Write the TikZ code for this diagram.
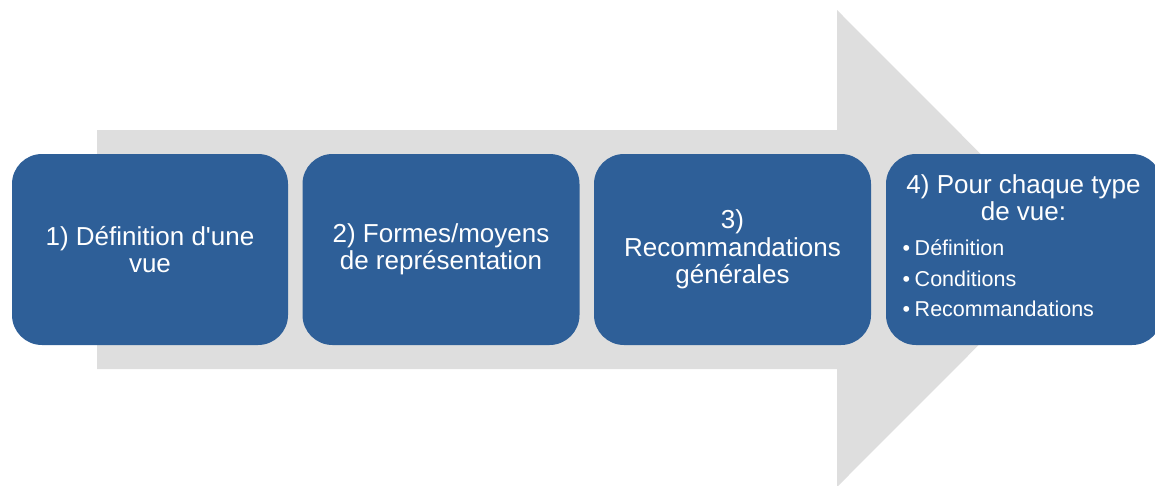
\documentclass[tikz,border=0pt]{standalone}
\usepackage{fontspec}
\setmainfont{Liberation Sans}
\definecolor{boxblue}{HTML}{2E5F98}
\definecolor{arrowgrey}{HTML}{DEDEDE}
\begin{document}
\begin{tikzpicture}[x=1pt,y=-1pt,
  stepbox/.style={draw=none,fill=boxblue,rounded corners=30pt,text=white,align=center,
    font=\fontsize{26}{27.5}\selectfont,inner sep=0pt},
  headtext/.style={text=white,inner sep=0pt,font=\fontsize{26}{27.5}\selectfont},
  bullettext/.style={text=white,inner sep=0pt,font=\fontsize{21.5}{24}\selectfont}]
\useasboundingbox (0,0) rectangle (1155,485);
\clip (0,0) rectangle (1155,485);
\fill[arrowgrey] (97,130) -- (837,130) -- (837,10) -- (1075,248.5) -- (837,487) -- (837,369) -- (97,369) -- cycle;
\node[stepbox,minimum width=276pt,minimum height=191pt] (b1) at (150,249.5) {1) Définition d\textquotesingle une\\vue};
\node[stepbox,minimum width=277pt,minimum height=191pt] (b2) at (441,249.5) {2) Formes/moyens\\de représentation};
\node[stepbox,minimum width=277pt,minimum height=191pt] (b3) at (732.5,249.5) {3)\\Recommandations\\générales};
\node[stepbox,minimum width=276pt,minimum height=191pt] (b4) at (1024,249.5) {};
\node[headtext,anchor=base] (h1) at (1023.5,193) {4) Pour chaque type};
\node[headtext,anchor=base] (h2) at (1023.5,220) {de vue:};
\node[bullettext,anchor=base west] (l1) at (902.5,255) {\textbullet\hspace{4.5pt}Définition};
\node[bullettext,anchor=base west] (l2) at (902.5,286) {\textbullet\hspace{4.5pt}Conditions};
\node[bullettext,anchor=base west] (l3) at (902.5,316) {\textbullet\hspace{4.5pt}Recommandations};
\end{tikzpicture}
\end{document}
